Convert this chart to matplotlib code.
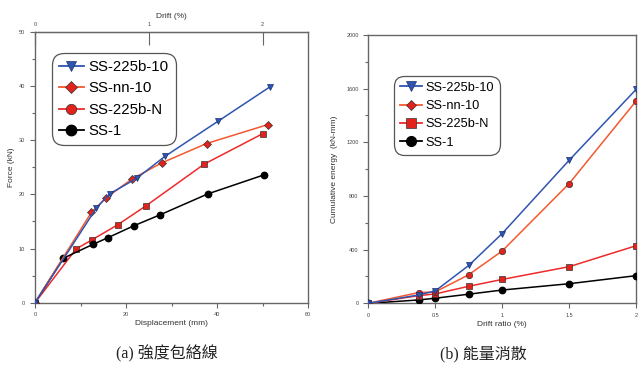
import matplotlib.pyplot as plt
from matplotlib.lines import Line2D
from matplotlib.ticker import MultipleLocator

# (a) strength envelope: displacement (mm) vs force (kN)
disp_225b10 = [0, 13.5, 16.4, 22.4, 28.5, 40.2, 51.7]
force_225b10 = [0, 17.5, 20.1, 23.0, 27.0, 33.5, 39.9]
disp_nn10 = [0, 12.4, 15.5, 21.4, 27.8, 37.7, 51.2]
force_nn10 = [0, 16.7, 19.3, 22.9, 25.8, 29.4, 32.9]
disp_225bN = [0, 9.0, 12.5, 18.2, 24.4, 37.2, 50.0]
force_225bN = [0, 9.9, 11.6, 14.4, 17.9, 25.6, 31.2]
disp_ss1 = [0, 6.2, 12.8, 16.0, 21.7, 27.4, 38.0, 50.3]
force_ss1 = [0, 8.2, 10.8, 12.0, 14.2, 16.2, 20.1, 23.6]

# (b) energy dissipation: drift ratio (%) vs cumulative energy (kN-mm)
drift = [0, 0.375, 0.5, 0.75, 1.0, 1.5, 2.0]
energy_225b10 = [0, 62, 92, 282, 520, 1066, 1594]
energy_nn10 = [0, 80, 85, 213, 390, 892, 1507]
energy_225bN = [0, 57, 70, 127, 178, 273, 429]
energy_ss1 = [0, 25, 38, 68, 99, 146, 206]

labels = ["SS-225b-10", "SS-nn-10", "SS-225b-N", "SS-1"]
captions = ["(a) 強度包絡線", "(b) 能量消散"]

BLUE = "#2f55b0"
ORANGE = "#f4582e"
RED = "#ee2a2a"
MRED = "#e3221c"
EDGE = "#333333"
SPINE = "#666666"

plt.rcParams["font.family"] = ["Liberation Sans", "DejaVu Sans"]

fig = plt.figure(figsize=(6.38, 3.74), dpi=100)
ax1 = fig.add_axes([0.0549, 0.1907, 0.4279, 0.7238])
ax2 = fig.add_axes([0.5773, 0.1890, 0.4196, 0.7174])

ms = 4.6
lw = 1.1


def style_axes(ax):
    for s in ax.spines.values():
        s.set_color(SPINE)
        s.set_linewidth(1.0)
    ax.tick_params(which="both", direction="out", colors=SPINE, labelsize=4,
                   labelcolor="#444444", width=0.8)
    ax.tick_params(which="major", length=3.5)
    ax.tick_params(which="minor", length=2.5)


def make_legend(ax, handles, anchor, size):
    leg = ax.legend(handles, labels, loc="upper left", bbox_to_anchor=anchor,
                    bbox_transform=fig.transFigure, borderaxespad=0,
                    fontsize=size, handlelength=1.7, handletextpad=0.3,
                    labelspacing=0.5, borderpad=0.45, frameon=True,
                    edgecolor="#555555", framealpha=1)
    frame = leg.get_frame()
    frame.set_linewidth(0.9)
    frame.set_boxstyle("round,pad=0,rounding_size=0.8")
    return leg


# left panel
ax1.plot(disp_225bN, force_225bN, color=RED, lw=lw, marker="s", ms=ms,
         mfc=MRED, mec=EDGE, mew=0.5, zorder=3)
ax1.plot(disp_ss1, force_ss1, color="black", lw=lw, marker="o", ms=ms,
         mfc="black", mec="black", zorder=3)
ax1.plot(disp_nn10, force_nn10, color=ORANGE, lw=lw, marker="D", ms=ms - 0.8,
         mfc=MRED, mec=EDGE, mew=0.5, zorder=4)
ax1.plot(disp_225b10, force_225b10, color=BLUE, lw=lw, marker="v", ms=ms + 0.4,
         mfc=BLUE, mec="#1a2f70", mew=0.5, zorder=4)
ax1.set_xlim(0, 60)
ax1.set_ylim(0, 50)
ax1.xaxis.set_major_locator(MultipleLocator(20))
ax1.xaxis.set_minor_locator(MultipleLocator(10))
ax1.yaxis.set_major_locator(MultipleLocator(10))
ax1.yaxis.set_minor_locator(MultipleLocator(5))
style_axes(ax1)
ax1.set_xlabel("Displacement (mm)", fontsize=6, color="#333333", labelpad=2)
ax1.set_ylabel("Force (kN)", fontsize=6, color="#333333", labelpad=3)

top = ax1.secondary_xaxis("top", functions=(lambda x: x / 25, lambda d: d * 25))
top.set_xticks([0, 1, 2])
top.tick_params(direction="in", length=9, colors=SPINE, labelsize=4,
                labelcolor="#444444", width=0.8)
top.spines["top"].set_color(SPINE)
top.set_xlabel("Drift (%)", fontsize=6, color="#333333", labelpad=3)

h1 = [
    Line2D([], [], color=BLUE, lw=1.3, marker="v", ms=7.5, mfc=BLUE, mec="#1a2f70", mew=0.5),
    Line2D([], [], color=ORANGE, lw=1.3, marker="D", ms=6, mfc=MRED, mec=EDGE, mew=0.5),
    Line2D([], [], color=RED, lw=1.3, marker="o", ms=7.5, mfc=MRED, mec=EDGE, mew=0.5),
    Line2D([], [], color="black", lw=1.3, marker="o", ms=7.5, mfc="black", mec="black"),
]
make_legend(ax1, h1, (0.0815, 0.858), 10.8)

# right panel
ax2.plot(drift, energy_ss1, color="black", lw=lw, marker="o", ms=ms,
         mfc="black", mec="black", zorder=3)
ax2.plot(drift, energy_225bN, color=RED, lw=lw, marker="s", ms=ms,
         mfc=MRED, mec=EDGE, mew=0.5, zorder=3)
ax2.plot(drift, energy_nn10, color=ORANGE, lw=lw, marker="o", ms=ms,
         mfc=MRED, mec=EDGE, mew=0.5, zorder=4)
ax2.plot(drift, energy_225b10, color=BLUE, lw=lw, marker="v", ms=ms + 0.4,
         mfc=BLUE, mec="#1a2f70", mew=0.5, zorder=4)
ax2.set_xlim(0, 2)
ax2.set_ylim(0, 2000)
ax2.yaxis.set_major_locator(MultipleLocator(400))
ax2.yaxis.set_minor_locator(MultipleLocator(200))
ax2.set_xticks([0, 0.5, 1, 1.5, 2], ["0", "0.5", "1", "1.5", "2"])
style_axes(ax2)
ax2.set_xlabel("Drift ratio (%)", fontsize=6, color="#333333", labelpad=2)
ax2.set_ylabel("Cumulative energy  (kN-mm)", fontsize=6, color="#333333", labelpad=6)

h2 = [
    Line2D([], [], color=BLUE, lw=1.3, marker="v", ms=7, mfc=BLUE, mec="#1a2f70", mew=0.5),
    Line2D([], [], color=ORANGE, lw=1.3, marker="D", ms=5.5, mfc=MRED, mec=EDGE, mew=0.5),
    Line2D([], [], color=RED, lw=1.3, marker="s", ms=7, mfc=MRED, mec=EDGE, mew=0.5),
    Line2D([], [], color="black", lw=1.3, marker="o", ms=7, mfc="black", mec="black"),
]
make_legend(ax2, h2, (0.6176, 0.797), 9.2)

cap_font = ["Liberation Serif", "Noto Sans CJK TC"]
fig.text(0.262, 0.03, captions[0], ha="center", va="bottom", fontsize=11.5,
         family=cap_font, color="#222222")
fig.text(0.757, 0.03, captions[1], ha="center", va="bottom", fontsize=11.5,
         family=cap_font, color="#222222")

fig.savefig("out.png", dpi=100)
